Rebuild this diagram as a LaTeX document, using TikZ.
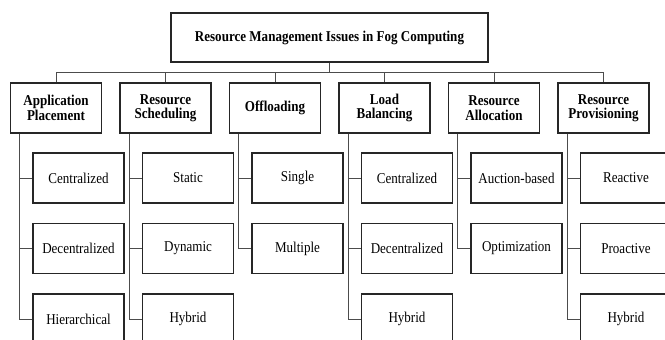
\documentclass[tikz,border=0pt]{standalone}
\usepackage{fontspec}
\setmainfont{Liberation Serif}
\begin{document}
\begin{tikzpicture}[x=1pt,y=-1pt,
  box/.style={draw=black!85,line width=1.4pt,inner sep=0pt,xscale=0.87,transform shape,minimum width=104.6pt,minimum height=50pt,align=center,font=\fontsize{15}{14.5}\selectfont},
  cat/.style={box,font=\fontsize{15}{14.5}\selectfont\bfseries},
  leaf/.style={box},
  conn/.style={draw=black!70,line width=1pt}]
\useasboundingbox (0,0) rectangle (665,340);
\node[box,minimum width=364.4pt,minimum height=49pt,font=\fontsize{15}{14.5}\selectfont\bfseries] (top) at (329.5,37.5) {Resource Management Issues in Fog Computing};
\coordinate (bus) at (329.5,72.5);
\node[cat] (c1) at (56,108) {Application\\Placement};
\node[cat] (c2) at (165.5,108) {Resource\\Scheduling};
\node[cat] (c3) at (275,108) {Offloading};
\node[cat] (c4) at (384.5,108) {Load\\Balancing};
\node[cat] (c5) at (494,108) {Resource\\Allocation};
\node[cat] (c6) at (603.5,108) {Resource\\Provisioning};
% leaves
\node[leaf] (l11) at (78.5,178) {Centralized};
\node[leaf] (l12) at (78.5,248.5) {Decentralized};
\node[leaf] (l13) at (78.5,319) {Hierarchical};
\node[leaf] (l21) at (188,178) {Static};
\node[leaf] (l22) at (188,248.5) {Dynamic};
\node[leaf] (l23) at (188,319) {Hybrid};
\node[leaf] (l31) at (297.5,178) {Single};
\node[leaf] (l32) at (297.5,248.5) {Multiple};
\node[leaf] (l41) at (407,178) {Centralized};
\node[leaf] (l42) at (407,248.5) {Decentralized};
\node[leaf] (l43) at (407,319) {Hybrid};
\node[leaf] (l51) at (516.5,178) {Auction-based};
\node[leaf] (l52) at (516.5,248.5) {Optimization};
\node[leaf] (l61) at (626,178) {Reactive};
\node[leaf] (l62) at (626,248.5) {Proactive};
\node[leaf] (l63) at (626,319) {Hybrid};
% connectors
\draw[conn] (top.south) -- (bus);
\foreach \c in {c1,c2,c3,c4,c5,c6} {\draw[conn] (\c.north) |- (bus);}
\foreach \c in {1,...,6} {\coordinate (t\c) at ([xshift=-36.5pt]c\c.south);}
\draw[conn] (t1) |- (l11.west); \draw[conn] (t1) |- (l12.west); \draw[conn] (t1) |- (l13.west);
\draw[conn] (t2) |- (l21.west); \draw[conn] (t2) |- (l22.west); \draw[conn] (t2) |- (l23.west);
\draw[conn] (t3) |- (l31.west); \draw[conn] (t3) |- (l32.west);
\draw[conn] (t4) |- (l41.west); \draw[conn] (t4) |- (l42.west); \draw[conn] (t4) |- (l43.west);
\draw[conn] (t5) |- (l51.west); \draw[conn] (t5) |- (l52.west);
\draw[conn] (t6) |- (l61.west); \draw[conn] (t6) |- (l62.west); \draw[conn] (t6) |- (l63.west);
\end{tikzpicture}
\end{document}
